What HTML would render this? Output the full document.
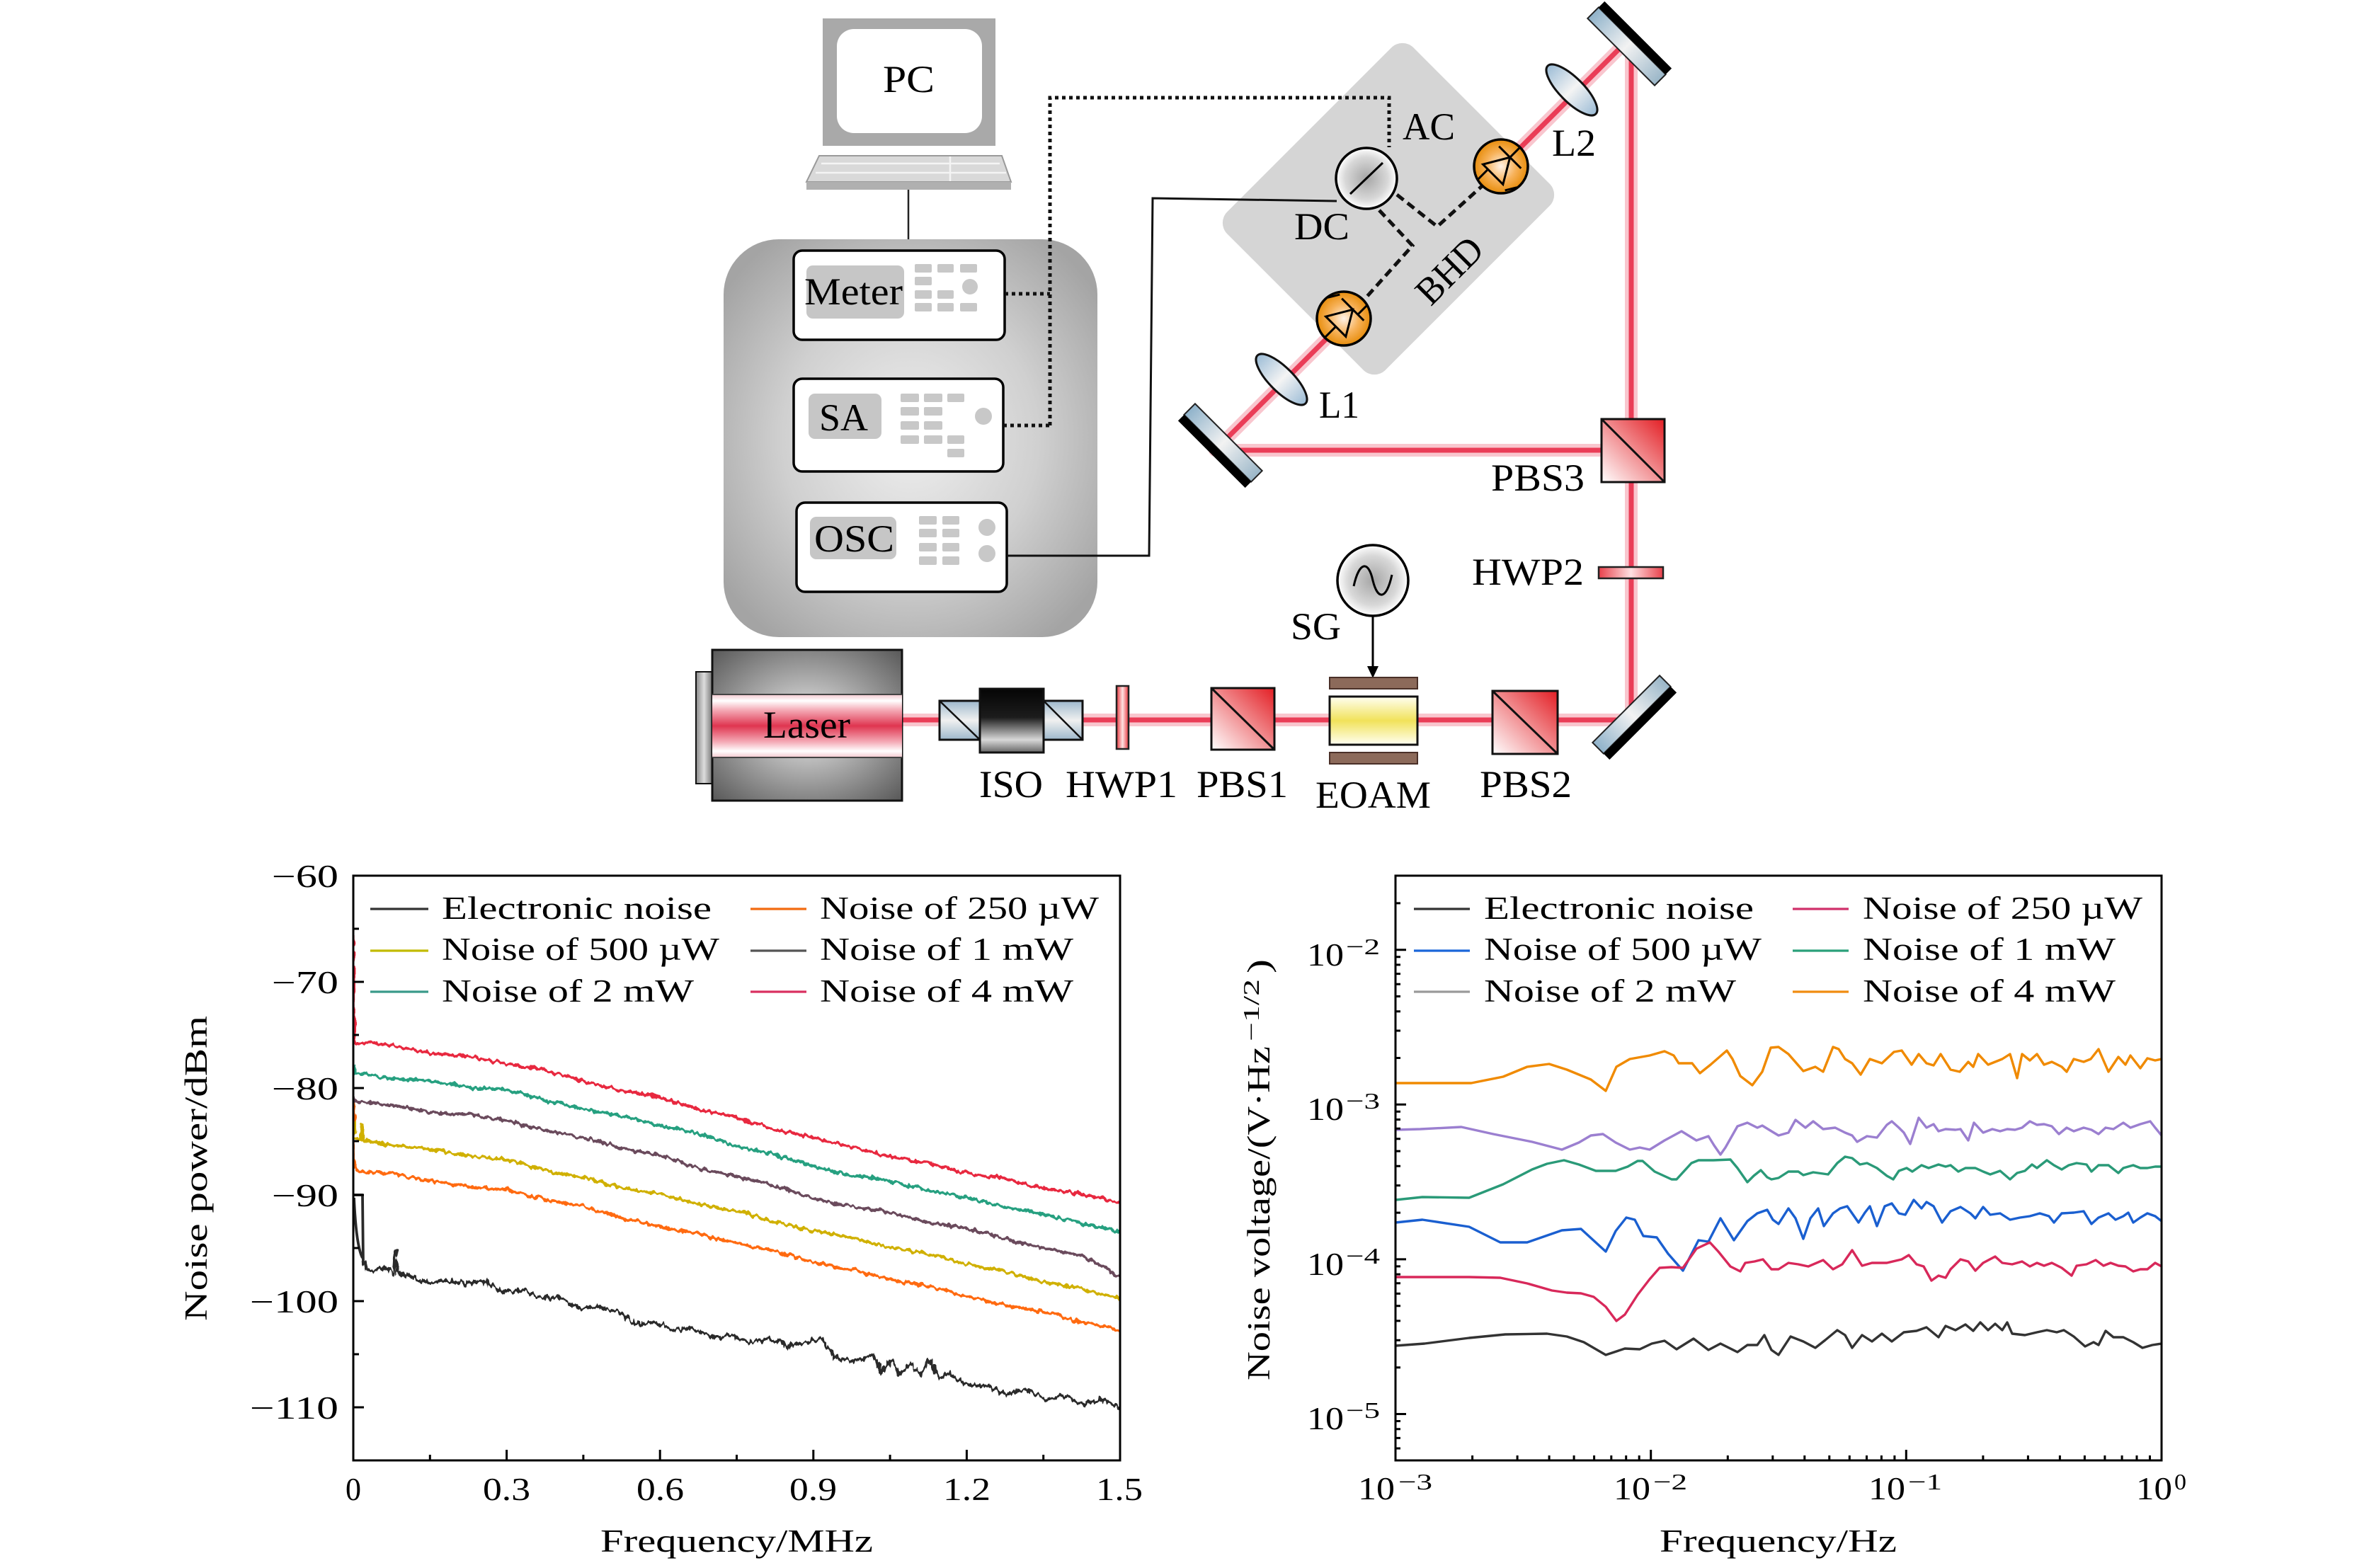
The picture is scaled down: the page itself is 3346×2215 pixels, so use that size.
<!DOCTYPE html>
<html><head><meta charset="utf-8"><style>
html,body{margin:0;padding:0;background:#fff;}
body{width:3346px;height:2215px;overflow:hidden;}
svg{display:block;}
</style></head><body>
<svg width="3346" height="2215" viewBox="0 0 3346 2215" xmlns="http://www.w3.org/2000/svg" font-family="'Liberation Serif', serif">
<defs>
<radialGradient id="rackG" cx="50%" cy="50%" r="62%"><stop offset="0" stop-color="#efefef"/><stop offset="0.55" stop-color="#d0d0d0"/><stop offset="1" stop-color="#a4a4a4"/></radialGradient>
<radialGradient id="laserG" cx="50%" cy="50%" r="72%"><stop offset="0" stop-color="#ececec"/><stop offset="1" stop-color="#555"/></radialGradient>
<linearGradient id="plateG" x1="0" y1="0" x2="1" y2="0"><stop offset="0" stop-color="#888"/><stop offset="0.5" stop-color="#ddd"/><stop offset="1" stop-color="#777"/></linearGradient>
<linearGradient id="bandG" x1="0" y1="0" x2="0" y2="1"><stop offset="0" stop-color="#f3c7ce"/><stop offset="0.1" stop-color="#ffffff"/><stop offset="0.25" stop-color="#f4a9b5"/><stop offset="0.5" stop-color="#df3550"/><stop offset="0.75" stop-color="#f4a9b5"/><stop offset="0.9" stop-color="#ffffff"/><stop offset="1" stop-color="#f3c7ce"/></linearGradient>
<linearGradient id="pbsG" x1="0" y1="1" x2="1" y2="0"><stop offset="0" stop-color="#ffffff"/><stop offset="1" stop-color="#e31e24"/></linearGradient>
<linearGradient id="mirG" x1="0" y1="0" x2="1" y2="0"><stop offset="0" stop-color="#8fb2ca"/><stop offset="0.5" stop-color="#f2f2f2"/><stop offset="1" stop-color="#9ab6c8"/></linearGradient>
<linearGradient id="lensG" x1="0" y1="0" x2="1" y2="0"><stop offset="0" stop-color="#9cbcd6"/><stop offset="0.5" stop-color="#f4f4f4"/><stop offset="1" stop-color="#9cbcd6"/></linearGradient>
<radialGradient id="pdG" cx="50%" cy="50%" r="50%"><stop offset="0" stop-color="#fff3e8"/><stop offset="0.55" stop-color="#f7b25a"/><stop offset="1" stop-color="#e78d0c"/></radialGradient>
<radialGradient id="dcG" cx="50%" cy="50%" r="50%"><stop offset="0" stop-color="#a6a6a6"/><stop offset="0.7" stop-color="#d8d8d8"/><stop offset="1" stop-color="#ffffff"/></radialGradient>
<linearGradient id="eoG" x1="0" y1="0" x2="0" y2="1"><stop offset="0" stop-color="#fffff2"/><stop offset="0.5" stop-color="#f1e25a"/><stop offset="1" stop-color="#fffff2"/></linearGradient>
<linearGradient id="isoG" x1="0" y1="0" x2="0" y2="1"><stop offset="0" stop-color="#050505"/><stop offset="0.45" stop-color="#1c1c1c"/><stop offset="0.8" stop-color="#d8d8d8"/><stop offset="1" stop-color="#666"/></linearGradient>
<linearGradient id="isoS" x1="0" y1="0" x2="0" y2="1"><stop offset="0" stop-color="#9db8cc"/><stop offset="0.5" stop-color="#f0f0f0"/><stop offset="1" stop-color="#9db8cc"/></linearGradient>
<linearGradient id="hwpV" x1="0" y1="0" x2="1" y2="0"><stop offset="0" stop-color="#e8343c"/><stop offset="0.5" stop-color="#ffe2e2"/><stop offset="1" stop-color="#e8343c"/></linearGradient>
<linearGradient id="hwpH" x1="0" y1="0" x2="1" y2="0"><stop offset="0" stop-color="#e8404a"/><stop offset="0.5" stop-color="#ffe0e2"/><stop offset="1" stop-color="#e8404a"/></linearGradient>
<filter id="jit" x="-3%" y="-10%" width="106%" height="120%" color-interpolation-filters="sRGB">
<feTurbulence type="fractalNoise" baseFrequency="0.15 0.06" numOctaves="2" seed="7" result="t"/>
<feDisplacementMap in="SourceGraphic" in2="t" scale="9" xChannelSelector="R" yChannelSelector="G"/>
</filter>
<filter id="jitB" x="-3%" y="-10%" width="106%" height="120%" color-interpolation-filters="sRGB">
<feTurbulence type="fractalNoise" baseFrequency="0.2 0.06" numOctaves="2" seed="11" result="t"/>
<feDisplacementMap in="SourceGraphic" in2="t" scale="13" xChannelSelector="R" yChannelSelector="G"/>
</filter>
<clipPath id="clipL"><rect x="499" y="1237" width="1083" height="826"/></clipPath>
<clipPath id="clipR"><rect x="1971" y="1237" width="1082" height="826"/></clipPath>
</defs>

<!-- ================= DIAGRAM ================= -->
<rect x="1162" y="26" width="244" height="180" fill="#a9a9a9"/>
<rect x="1182" y="41" width="205" height="147" rx="24" fill="#fff"/>
<polygon points="1157,220 1415,220 1428,257 1139,257" fill="#d9d9d9" stroke="#9a9a9a" stroke-width="2"/>
<path d="M1160,231 H1412 M1152,244 H1421 M1342,221 V256" stroke="#f4f4f4" stroke-width="2.5" fill="none"/>
<rect x="1139" y="257" width="289" height="11" fill="#b0b0b0"/>
<path d="M1283,268 V354" stroke="#222" stroke-width="2.5"/>
<text x="1247" y="130" font-size="54" textLength="73" lengthAdjust="spacingAndGlyphs">PC</text>

<rect x="1022" y="338" width="528" height="562" rx="78" fill="url(#rackG)"/>
<rect x="1121" y="354" width="298" height="126" rx="12" fill="#fff" stroke="#000" stroke-width="3.5"/>
<rect x="1139" y="375" width="138" height="75" rx="9" fill="#c6c6c6"/>
<g fill="#c8c8c8">
<rect x="1292" y="373" width="24" height="12" rx="2"/><rect x="1324" y="373" width="23" height="12" rx="2"/><rect x="1356" y="373" width="24" height="12" rx="2"/>
<rect x="1292" y="391" width="24" height="12" rx="2"/>
<rect x="1292" y="410" width="24" height="12" rx="2"/><rect x="1324" y="410" width="23" height="12" rx="2"/>
<rect x="1292" y="428" width="24" height="12" rx="2"/><rect x="1324" y="428" width="23" height="12" rx="2"/><rect x="1356" y="428" width="24" height="12" rx="2"/>
<circle cx="1370" cy="405" r="11"/>
</g>
<text x="1136" y="430" font-size="54" textLength="139" lengthAdjust="spacingAndGlyphs">Meter</text>
<rect x="1121" y="535" width="296" height="131" rx="12" fill="#fff" stroke="#000" stroke-width="3.5"/>
<rect x="1142" y="556" width="103" height="64" rx="9" fill="#c6c6c6"/>
<g fill="#c8c8c8">
<rect x="1272" y="556" width="26" height="12" rx="2"/><rect x="1305" y="556" width="26" height="12" rx="2"/><rect x="1338" y="556" width="24" height="12" rx="2"/>
<rect x="1272" y="575" width="26" height="12" rx="2"/><rect x="1305" y="575" width="26" height="12" rx="2"/>
<rect x="1272" y="595" width="26" height="12" rx="2"/><rect x="1305" y="595" width="26" height="12" rx="2"/>
<rect x="1272" y="615" width="26" height="12" rx="2"/><rect x="1305" y="615" width="26" height="12" rx="2"/><rect x="1338" y="615" width="24" height="12" rx="2"/>
<rect x="1338" y="634" width="24" height="12" rx="2"/>
<circle cx="1389" cy="588" r="12"/>
</g>
<text x="1157" y="608" font-size="54" textLength="69" lengthAdjust="spacingAndGlyphs">SA</text>
<rect x="1125" y="710" width="297" height="126" rx="12" fill="#fff" stroke="#000" stroke-width="3.5"/>
<rect x="1144" y="730" width="122" height="60" rx="9" fill="#c6c6c6"/>
<g fill="#c8c8c8">
<rect x="1298" y="729" width="25" height="12" rx="2"/><rect x="1331" y="729" width="24" height="12" rx="2"/>
<rect x="1298" y="747" width="25" height="12" rx="2"/><rect x="1331" y="747" width="24" height="12" rx="2"/>
<rect x="1298" y="767" width="25" height="12" rx="2"/><rect x="1331" y="767" width="24" height="12" rx="2"/>
<rect x="1298" y="786" width="25" height="12" rx="2"/><rect x="1331" y="786" width="24" height="12" rx="2"/>
<circle cx="1394" cy="745" r="12"/><circle cx="1394" cy="782" r="12"/>
</g>
<text x="1150" y="779" font-size="54" textLength="113" lengthAdjust="spacingAndGlyphs">OSC</text>

<rect transform="translate(1961,295) rotate(45)" x="-158" y="-186" width="316" height="372" rx="22" fill="#d5d5d5"/>

<g fill="none" stroke-linejoin="round">
<path d="M1274,1017 H2304 V52 L2121,235 M2304,636 H1716 L1898,454" stroke="#f9c6ce" stroke-width="18"/>
<path d="M1274,1017 H2304 V52 L2121,235 M2304,636 H1716 L1898,454" stroke="#ea3d57" stroke-width="7"/>
</g>

<g fill="none" stroke="#111">
<path d="M1419,415 H1483 M1417,601 H1483 M1483,601 V138 H1962 V208" stroke-width="5" stroke-dasharray="5 5"/>
<path d="M1422,785 H1623 L1628,280 L1888,284" stroke-width="3"/>
<path d="M1973,275 L2030,320 L2093,263 M1948,297 L1995,347 L1927,423" stroke-width="5" stroke-dasharray="12 7"/>
</g>

<circle cx="1930" cy="252" r="43" fill="url(#dcG)" stroke="#000" stroke-width="3.5"/>
<path d="M1907,274 L1953,230" stroke="#000" stroke-width="3"/>
<g stroke="#000" stroke-width="3" fill="none">
<g transform="translate(2120,235) rotate(-45)">
<circle r="38" fill="url(#pdG)" stroke-width="3.5"/>
<path d="M-16,-20 L-16,20 L18,0 Z M18,-22 L18,22 M-36,-10 L-16,-10 M18,0 L37,0 M-20,28 L-5,37"/>
</g>
<g transform="translate(1898,450) rotate(-45)">
<circle r="38" fill="url(#pdG)" stroke-width="3.5"/>
<path d="M-16,-20 L-16,20 L18,0 Z M18,-22 L18,22 M-37,0 L-16,0 M18,10 L36,10 M5,-37 L20,-28"/>
</g>
</g>
<ellipse cx="1810" cy="536" rx="48" ry="17" transform="rotate(45 1810 536)" fill="url(#lensG)" stroke="#111" stroke-width="3"/>
<ellipse cx="2220" cy="127" rx="48" ry="17" transform="rotate(45 2220 127)" fill="url(#lensG)" stroke="#111" stroke-width="3"/>
<g transform="translate(1724,629) rotate(45)"><rect x="-67" y="-16" width="134" height="22" fill="url(#mirG)" stroke="#222" stroke-width="2"/><rect x="-67" y="6" width="134" height="12" fill="#000"/></g>
<g transform="translate(2301,62) rotate(45)"><rect x="-67" y="-6" width="134" height="22" fill="url(#mirG)" stroke="#222" stroke-width="2"/><rect x="-67" y="-18" width="134" height="12" fill="#000"/></g>
<g transform="translate(2308,1013) rotate(-45)"><rect x="-67" y="-16" width="134" height="22" fill="url(#mirG)" stroke="#222" stroke-width="2"/><rect x="-67" y="6" width="134" height="12" fill="#000"/></g>
<rect x="2262" y="592" width="89" height="89" fill="url(#pbsG)" stroke="#111" stroke-width="3"/>
<path d="M2262,592 L2351,681" stroke="#111" stroke-width="3"/>
<rect x="2258" y="801" width="91" height="16" fill="url(#hwpH)" stroke="#222" stroke-width="2.5"/>
<circle cx="1939" cy="820" r="50" fill="url(#dcG)" stroke="#000" stroke-width="3.5"/>
<path d="M1912,828 C1920,792 1933,792 1939,820 C1946,848 1958,848 1966,812" fill="none" stroke="#000" stroke-width="3"/>
<path d="M1939,870 V945" stroke="#000" stroke-width="3"/>
<polygon points="1931,941 1947,941 1939,958" fill="#000"/>
<rect x="983" y="949" width="23" height="158" fill="url(#plateG)" stroke="#111" stroke-width="2"/>
<rect x="1006" y="918" width="268" height="213" fill="url(#laserG)" stroke="#111" stroke-width="3"/>
<rect x="1006" y="981" width="268" height="89" fill="url(#bandG)"/>
<path d="M1006,981 H1274 M1006,1070 H1274" stroke="#444" stroke-width="2"/>
<text x="1078" y="1042" font-size="54" textLength="123" lengthAdjust="spacingAndGlyphs">Laser</text>
<rect x="1327" y="990" width="57" height="55" fill="url(#isoS)" stroke="#111" stroke-width="3"/>
<path d="M1327,990 L1384,1045" stroke="#111" stroke-width="2.5"/>
<rect x="1474" y="990" width="55" height="55" fill="url(#isoS)" stroke="#111" stroke-width="3"/>
<path d="M1474,990 L1529,1045" stroke="#111" stroke-width="2.5"/>
<rect x="1384" y="973" width="90" height="90" fill="url(#isoG)" stroke="#111" stroke-width="3"/>
<rect x="1577" y="969" width="17" height="89" fill="url(#hwpV)" stroke="#222" stroke-width="2.5"/>
<rect x="1711" y="972" width="89" height="87" fill="url(#pbsG)" stroke="#111" stroke-width="3"/>
<path d="M1711,972 L1800,1059" stroke="#111" stroke-width="3"/>
<rect x="1878" y="957" width="124" height="16" fill="#8c6a5a" stroke="#4a3028" stroke-width="2"/>
<rect x="1878" y="984" width="124" height="68" fill="url(#eoG)" stroke="#111" stroke-width="3"/>
<rect x="1878" y="1063" width="124" height="16" fill="#8c6a5a" stroke="#4a3028" stroke-width="2"/>
<rect x="2108" y="976" width="92" height="89" fill="url(#pbsG)" stroke="#111" stroke-width="3"/>
<path d="M2108,976 L2200,1065" stroke="#111" stroke-width="3"/>

<g font-size="54" fill="#000">
<text x="1981" y="197" textLength="74" lengthAdjust="spacingAndGlyphs">AC</text>
<text x="1828" y="338" textLength="78" lengthAdjust="spacingAndGlyphs">DC</text>
<text x="2192" y="220" textLength="62" lengthAdjust="spacingAndGlyphs">L2</text>
<text x="1863" y="590" textLength="57" lengthAdjust="spacingAndGlyphs">L1</text>
<text transform="translate(2047,382) rotate(-45)" x="-55" y="18" textLength="110" lengthAdjust="spacingAndGlyphs">BHD</text>
<text x="2106" y="693" textLength="132" lengthAdjust="spacingAndGlyphs">PBS3</text>
<text x="2079" y="826" textLength="158" lengthAdjust="spacingAndGlyphs">HWP2</text>
<text x="1823" y="903" textLength="71" lengthAdjust="spacingAndGlyphs">SG</text>
<text x="1383" y="1126" textLength="90" lengthAdjust="spacingAndGlyphs">ISO</text>
<text x="1505" y="1126" textLength="158" lengthAdjust="spacingAndGlyphs">HWP1</text>
<text x="1690" y="1126" textLength="129" lengthAdjust="spacingAndGlyphs">PBS1</text>
<text x="1858" y="1141" textLength="163" lengthAdjust="spacingAndGlyphs">EOAM</text>
<text x="2090" y="1126" textLength="130" lengthAdjust="spacingAndGlyphs">PBS2</text>
</g>

<!-- ================= LEFT PLOT ================= -->
<g clip-path="url(#clipL)" fill="none" stroke-linejoin="round">
<g filter="url(#jit)" stroke-width="4.2">
<path stroke="#ff6a10" d="M499,1553 L500,1650 L503,1654 L553,1658 L607,1668 L661,1676 L716,1681 L770,1695 L824,1704 L878,1720 L932,1733 L986,1743 L1041,1757 L1095,1767 L1149,1783 L1203,1793 L1257,1808 L1311,1817 L1365,1831 L1420,1844 L1474,1853 L1528,1868 L1582,1879"/>
<path stroke="#d0b000" d="M499,1585 L501,1607 L510,1610 L512,1588 L514,1611 L553,1618 L607,1623 L661,1633 L716,1638 L770,1653 L824,1663 L878,1678 L932,1687 L986,1701 L1041,1710 L1095,1726 L1149,1739 L1203,1748 L1257,1762 L1311,1771 L1365,1786 L1420,1796 L1474,1811 L1528,1820 L1582,1834"/>
<path stroke="#6a4a5c" d="M499,1550 L501,1556 L553,1561 L607,1571 L661,1574 L716,1583 L770,1597 L824,1607 L878,1622 L932,1632 L986,1650 L1041,1662 L1095,1675 L1149,1693 L1203,1705 L1257,1713 L1311,1727 L1365,1735 L1420,1750 L1474,1763 L1528,1774 L1555,1788 L1582,1805"/>
<path stroke="#26a080" d="M499,1505 L501,1515 L553,1524 L607,1526 L661,1536 L716,1539 L770,1554 L824,1567 L878,1576 L932,1590 L986,1601 L1041,1620 L1095,1631 L1149,1648 L1203,1660 L1257,1668 L1311,1682 L1365,1691 L1420,1706 L1474,1715 L1528,1729 L1582,1739"/>
<path stroke="#e8283f" d="M499,1313 L500,1468 L503,1473 L553,1476 L607,1488 L661,1492 L716,1503 L770,1512 L824,1527 L878,1541 L932,1550 L986,1567 L1041,1579 L1095,1596 L1149,1606 L1203,1621 L1257,1634 L1311,1643 L1365,1657 L1420,1665 L1474,1679 L1528,1686 L1582,1699"/>
</g>
<path stroke="#2a2a2a" stroke-width="3.8" d="M499,1688 L512,1688 L513,1785 M500,1692 Q503,1760 512,1777"/>
<path filter="url(#jitB)" stroke="#2a2a2a" stroke-width="4.4" d="M512,1780 L520,1794 L547,1792 L556,1801 L559,1767 L562,1800 L574,1800 L601,1812 L628,1808 L655,1814 L682,1809 L709,1825 L736,1822 L763,1833 L790,1833 L817,1848 L844,1846 L871,1853 L898,1870 L925,1868 L952,1879 L979,1876 L1006,1890 L1033,1886 L1060,1896 L1087,1891 L1114,1901 L1141,1895 L1160,1890 L1178,1917 L1205,1924 L1232,1914 L1245,1938 L1259,1922 L1272,1942 L1286,1925 L1300,1944 L1313,1920 L1326,1946 L1340,1940 L1367,1958 L1394,1957 L1421,1970 L1448,1962 L1475,1976 L1502,1971 L1529,1984 L1556,1977 L1582,1988"/>
</g>
<rect x="499" y="1237" width="1083" height="826" fill="none" stroke="#000" stroke-width="3"/>
<path stroke="#000" stroke-width="3" fill="none" d="M499,1387 H514 M499,1537 H514 M499,1688 H514 M499,1838 H514 M499,1988 H514 M499,1312 H507 M499,1462 H507 M499,1612 H507 M499,1763 H507 M499,1913 H507 M715.6,2063 V2048 M932.2,2063 V2048 M1148.8,2063 V2048 M1365.4,2063 V2048 M607.3,2063 V2055 M823.9,2063 V2055 M1040.5,2063 V2055 M1257.1,2063 V2055 M1473.7,2063 V2055"/>
<g font-size="45" fill="#000">
<text x="384" y="1253" textLength="94" lengthAdjust="spacingAndGlyphs">−60</text>
<text x="384" y="1403" textLength="94" lengthAdjust="spacingAndGlyphs">−70</text>
<text x="384" y="1553" textLength="94" lengthAdjust="spacingAndGlyphs">−80</text>
<text x="384" y="1704" textLength="94" lengthAdjust="spacingAndGlyphs">−90</text>
<text x="353" y="1854" textLength="125" lengthAdjust="spacingAndGlyphs">−100</text>
<text x="353" y="2004" textLength="125" lengthAdjust="spacingAndGlyphs">−110</text>
<text x="488" y="2119" textLength="22" lengthAdjust="spacingAndGlyphs">0</text>
<text x="682" y="2119" textLength="67" lengthAdjust="spacingAndGlyphs">0.3</text>
<text x="899" y="2119" textLength="67" lengthAdjust="spacingAndGlyphs">0.6</text>
<text x="1115" y="2119" textLength="67" lengthAdjust="spacingAndGlyphs">0.9</text>
<text x="1332" y="2119" textLength="67" lengthAdjust="spacingAndGlyphs">1.2</text>
<text x="1548" y="2119" textLength="66" lengthAdjust="spacingAndGlyphs">1.5</text>
<text x="848" y="2192" textLength="385" lengthAdjust="spacingAndGlyphs">Frequency/MHz</text>
<text transform="translate(292,1651) rotate(-90)" x="-215" y="0" textLength="431" lengthAdjust="spacingAndGlyphs">Noise power/dBm</text>
<text x="624" y="1298" textLength="381" lengthAdjust="spacingAndGlyphs">Electronic noise</text>
<text x="624" y="1356" textLength="392" lengthAdjust="spacingAndGlyphs">Noise of 500 µW</text>
<text x="624" y="1415" textLength="356" lengthAdjust="spacingAndGlyphs">Noise of 2 mW</text>
<text x="1158" y="1298" textLength="394" lengthAdjust="spacingAndGlyphs">Noise of 250 µW</text>
<text x="1158" y="1356" textLength="358" lengthAdjust="spacingAndGlyphs">Noise of 1 mW</text>
<text x="1158" y="1415" textLength="358" lengthAdjust="spacingAndGlyphs">Noise of 4 mW</text>
</g>
<g stroke-width="3.2" fill="none">
<path stroke="#333" d="M523,1284 H605"/>
<path stroke="#c2bb00" d="M523,1343 H605"/>
<path stroke="#3a9a8a" d="M523,1401 H605"/>
<path stroke="#f26a10" d="M1060,1284 H1139"/>
<path stroke="#555" d="M1060,1343 H1139"/>
<path stroke="#d93060" d="M1060,1401 H1139"/>
</g>

<!-- ================= RIGHT PLOT ================= -->
<g clip-path="url(#clipR)" fill="none" stroke-width="3.4" stroke-linejoin="round">
<polyline stroke="#f08a00" points="1971,1530 2078,1530 2123,1521 2157,1507 2188,1503 2213,1511 2247,1525 2268,1541 2283,1507 2302,1496 2330,1491 2351,1485 2364,1491 2371,1502 2390,1502 2401,1516 2416,1504 2439,1484 2447,1496 2458,1520 2475,1533 2489,1514 2501,1480 2512,1479 2526,1489 2547,1513 2564,1507 2575,1514 2589,1479 2597,1482 2606,1496 2616,1502 2628,1518 2641,1496 2658,1502 2675,1486 2686,1484 2700,1504 2710,1489 2721,1502 2731,1505 2741,1489 2755,1511 2768,1514 2780,1500 2787,1507 2794,1489 2808,1504 2818,1500 2828,1496 2839,1489 2849,1523 2856,1489 2867,1498 2877,1489 2887,1504 2898,1500 2912,1507 2919,1514 2929,1496 2943,1500 2953,1496 2964,1482 2978,1514 2992,1493 3002,1504 3009,1491 3023,1509 3033,1495 3044,1498 3053,1496"/>
<polyline stroke="#9b7fd0" points="1971,1596 2006,1595 2064,1592 2109,1602 2164,1613 2206,1624 2230,1614 2247,1604 2264,1602 2282,1614 2302,1624 2316,1621 2330,1624 2351,1611 2375,1598 2396,1611 2413,1605 2421,1618 2430,1631 2437,1621 2454,1591 2468,1586 2482,1593 2489,1590 2502,1598 2512,1604 2526,1600 2536,1582 2550,1593 2561,1584 2575,1595 2592,1593 2606,1600 2616,1604 2623,1613 2637,1605 2651,1607 2665,1589 2672,1584 2682,1593 2689,1600 2698,1616 2710,1579 2721,1593 2731,1588 2738,1598 2748,1595 2762,1596 2769,1595 2780,1611 2788,1586 2801,1600 2814,1595 2825,1598 2835,1595 2846,1596 2856,1593 2867,1584 2877,1589 2887,1588 2898,1591 2908,1602 2919,1593 2929,1598 2943,1593 2954,1596 2964,1602 2974,1593 2985,1595 2999,1586 3009,1593 3023,1588 3037,1584 3044,1593 3053,1604"/>
<polyline stroke="#2a9a78" points="1971,1695 2009,1691 2075,1692 2123,1673 2164,1652 2185,1644 2209,1639 2230,1645 2254,1654 2282,1654 2299,1648 2313,1640 2320,1640 2337,1655 2361,1666 2368,1666 2389,1643 2399,1639 2420,1639 2444,1638 2454,1650 2468,1670 2477,1661 2487,1653 2496,1663 2502,1666 2512,1664 2526,1655 2540,1655 2547,1660 2561,1656 2582,1659 2595,1643 2606,1634 2616,1636 2627,1645 2637,1643 2651,1650 2665,1661 2674,1666 2682,1654 2693,1650 2701,1655 2714,1646 2724,1650 2738,1645 2748,1648 2755,1646 2766,1655 2776,1650 2790,1650 2801,1655 2811,1659 2825,1654 2839,1666 2849,1657 2860,1654 2870,1645 2877,1650 2891,1639 2901,1646 2912,1652 2922,1646 2933,1643 2947,1645 2954,1655 2964,1646 2978,1646 2992,1657 2999,1650 3013,1646 3023,1650 3033,1650 3044,1648 3053,1648"/>
<polyline stroke="#1a5fd0" points="1971,1727 2009,1723 2075,1733 2119,1755 2157,1755 2206,1738 2233,1736 2268,1768 2282,1739 2297,1720 2309,1723 2321,1746 2340,1748 2356,1771 2377,1795 2399,1752 2413,1754 2430,1721 2449,1752 2468,1725 2482,1714 2496,1709 2504,1723 2512,1729 2526,1707 2536,1721 2547,1750 2557,1721 2568,1707 2576,1732 2589,1714 2599,1707 2609,1704 2616,1714 2625,1727 2634,1713 2641,1704 2651,1732 2662,1704 2672,1700 2682,1714 2691,1716 2703,1695 2714,1707 2721,1698 2731,1704 2743,1727 2755,1711 2769,1705 2783,1714 2790,1721 2801,1705 2811,1716 2825,1714 2839,1723 2853,1720 2867,1718 2881,1714 2894,1718 2901,1727 2912,1714 2929,1713 2943,1711 2954,1729 2964,1720 2978,1714 2988,1723 2999,1718 3006,1713 3013,1727 3023,1720 3033,1714 3044,1718 3053,1725"/>
<polyline stroke="#d8285a" points="1971,1804 2075,1804 2119,1805 2157,1813 2192,1823 2213,1826 2233,1827 2251,1832 2268,1846 2283,1866 2295,1857 2313,1829 2330,1807 2344,1791 2361,1790 2377,1791 2396,1764 2415,1755 2427,1768 2444,1789 2458,1796 2465,1784 2478,1782 2490,1779 2502,1793 2512,1793 2526,1784 2540,1786 2554,1789 2575,1780 2589,1793 2602,1786 2616,1766 2630,1788 2644,1784 2665,1784 2686,1779 2696,1773 2707,1786 2717,1789 2728,1809 2738,1802 2748,1805 2755,1793 2769,1779 2780,1782 2790,1795 2801,1784 2818,1775 2828,1784 2842,1786 2856,1782 2867,1789 2877,1784 2887,1788 2898,1784 2912,1791 2926,1802 2933,1788 2947,1786 2960,1780 2971,1788 2981,1784 2992,1788 3002,1789 3013,1796 3023,1793 3033,1793 3044,1784 3053,1789"/>
<polyline stroke="#333" points="1971,1901 2012,1898 2075,1890 2126,1885 2185,1884 2213,1888 2237,1896 2268,1914 2295,1905 2316,1906 2333,1898 2351,1894 2368,1906 2392,1891 2413,1907 2430,1898 2454,1910 2468,1900 2482,1900 2492,1886 2502,1907 2512,1914 2529,1888 2547,1895 2564,1904 2578,1893 2595,1879 2606,1886 2616,1904 2630,1886 2644,1895 2658,1884 2672,1895 2689,1882 2707,1880 2721,1875 2738,1889 2748,1873 2762,1879 2776,1871 2787,1880 2797,1868 2808,1879 2818,1870 2828,1879 2835,1868 2842,1884 2860,1886 2877,1882 2891,1879 2905,1882 2915,1879 2929,1888 2945,1902 2957,1896 2964,1900 2974,1880 2985,1889 2999,1889 3013,1896 3026,1904 3040,1900 3053,1898"/>
</g>
<rect x="1971" y="1237" width="1082" height="826" fill="none" stroke="#000" stroke-width="3"/>
<path stroke="#000" stroke-width="3" fill="none" d="M2331.7,2063 V2048 M2692.3,2063 V2048 M2079.6,2063 V2056 M2143.1,2063 V2056 M2188.1,2063 V2056 M2223.1,2063 V2056 M2251.6,2063 V2056 M2275.8,2063 V2056 M2296.7,2063 V2056 M2315.2,2063 V2056 M2440.3,2063 V2056 M2503.8,2063 V2056 M2548.8,2063 V2056 M2583.8,2063 V2056 M2612.3,2063 V2056 M2636.5,2063 V2056 M2657.4,2063 V2056 M2675.9,2063 V2056 M2800.9,2063 V2056 M2864.4,2063 V2056 M2909.4,2063 V2056 M2944.4,2063 V2056 M2972.9,2063 V2056 M2997.1,2063 V2056 M3018,2063 V2056 M3036.5,2063 V2056 M1971,1341.7 H1986 M1971,1560.3 H1986 M1971,1778.9 H1986 M1971,1997.5 H1986 M1971,1275.9 H1978 M1971,1494.5 H1978 M1971,1456 H1978 M1971,1428.7 H1978 M1971,1407.5 H1978 M1971,1390.2 H1978 M1971,1375.6 H1978 M1971,1362.9 H1978 M1971,1351.7 H1978 M1971,1713.1 H1978 M1971,1674.6 H1978 M1971,1647.3 H1978 M1971,1626.1 H1978 M1971,1608.8 H1978 M1971,1594.2 H1978 M1971,1581.5 H1978 M1971,1570.3 H1978 M1971,1931.7 H1978 M1971,1893.2 H1978 M1971,1865.9 H1978 M1971,1844.7 H1978 M1971,1827.4 H1978 M1971,1812.8 H1978 M1971,1800.1 H1978 M1971,1788.9 H1978 M1971,2046 H1978 M1971,2031.4 H1978 M1971,2018.7 H1978 M1971,2007.5 H1978"/>
<g fill="#000">
<g font-size="45">
<text x="1846" y="1364" textLength="52" lengthAdjust="spacingAndGlyphs">10</text>
<text x="1846" y="1582" textLength="52" lengthAdjust="spacingAndGlyphs">10</text>
<text x="1846" y="1801" textLength="52" lengthAdjust="spacingAndGlyphs">10</text>
<text x="1846" y="2019" textLength="52" lengthAdjust="spacingAndGlyphs">10</text>
<text x="1918" y="2118" textLength="52" lengthAdjust="spacingAndGlyphs">10</text>
<text x="2279" y="2118" textLength="52" lengthAdjust="spacingAndGlyphs">10</text>
<text x="2639" y="2118" textLength="52" lengthAdjust="spacingAndGlyphs">10</text>
<text x="3017" y="2118" textLength="51" lengthAdjust="spacingAndGlyphs">10</text>
<text x="2344" y="2192" textLength="335" lengthAdjust="spacingAndGlyphs">Frequency/Hz</text>
</g>
<g font-size="32">
<text x="1901" y="1348" textLength="48" lengthAdjust="spacingAndGlyphs">−2</text>
<text x="1901" y="1566" textLength="48" lengthAdjust="spacingAndGlyphs">−3</text>
<text x="1901" y="1785" textLength="48" lengthAdjust="spacingAndGlyphs">−4</text>
<text x="1901" y="2003" textLength="48" lengthAdjust="spacingAndGlyphs">−5</text>
<text x="1975" y="2104" textLength="48" lengthAdjust="spacingAndGlyphs">−3</text>
<text x="2335" y="2104" textLength="48" lengthAdjust="spacingAndGlyphs">−2</text>
<text x="2695" y="2104" textLength="48" lengthAdjust="spacingAndGlyphs">−1</text>
<text x="3071" y="2104" textLength="17" lengthAdjust="spacingAndGlyphs">0</text>
</g>
<g transform="translate(1793,1651) rotate(-90)">
<text x="-299" y="0" font-size="45" textLength="472" lengthAdjust="spacingAndGlyphs">Noise voltage/(V·Hz</text>
<text x="180" y="-15" font-size="32" textLength="88" lengthAdjust="spacingAndGlyphs">−1/2</text>
<text x="276" y="0" font-size="45" textLength="20" lengthAdjust="spacingAndGlyphs">)</text>
</g>
<g font-size="45">
<text x="2096" y="1298" textLength="381" lengthAdjust="spacingAndGlyphs">Electronic noise</text>
<text x="2096" y="1356" textLength="392" lengthAdjust="spacingAndGlyphs">Noise of 500 µW</text>
<text x="2096" y="1415" textLength="356" lengthAdjust="spacingAndGlyphs">Noise of 2 mW</text>
<text x="2631" y="1298" textLength="395" lengthAdjust="spacingAndGlyphs">Noise of 250 µW</text>
<text x="2631" y="1356" textLength="357" lengthAdjust="spacingAndGlyphs">Noise of 1 mW</text>
<text x="2631" y="1415" textLength="357" lengthAdjust="spacingAndGlyphs">Noise of 4 mW</text>
</g>
</g>
<g stroke-width="3.2" fill="none">
<path stroke="#333" d="M1997,1284 H2076"/>
<path stroke="#1a66d9" d="M1997,1343 H2076"/>
<path stroke="#9a9a9a" d="M1997,1401 H2076"/>
<path stroke="#d0306a" d="M2532,1284 H2611"/>
<path stroke="#2aa07a" d="M2532,1343 H2611"/>
<path stroke="#f08c10" d="M2532,1401 H2611"/>
</g>
</svg>
</body></html>
